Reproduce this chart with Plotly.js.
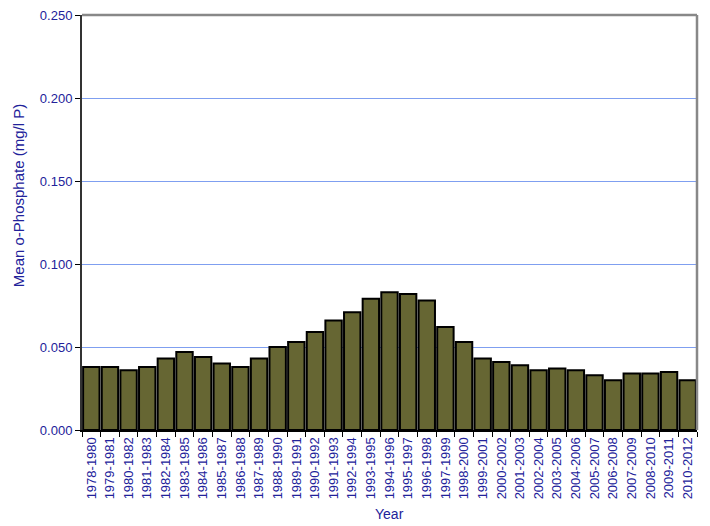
<!DOCTYPE html>
<html>
<head>
<meta charset="utf-8">
<script src="https://cdn.plot.ly/plotly-3.0.1.min.js"></script>
<style>html,body{margin:0;padding:0;background:#fff;}#chart{width:710px;height:526px;}</style>
</head>
<body>
<div id="chart"></div>
<script>
const periods = ["1978-1980","1979-1981","1980-1982","1981-1983","1982-1984","1983-1985","1984-1986","1985-1987","1986-1988","1987-1989","1988-1990","1989-1991","1990-1992","1991-1993","1992-1994","1993-1995","1994-1996","1995-1997","1996-1998","1997-1999","1998-2000","1999-2001","2000-2002","2001-2003","2002-2004","2003-2005","2004-2006","2005-2007","2006-2008","2007-2009","2008-2010","2009-2011","2010-2012"];
const meanPhosphate = [0.038,0.038,0.036,0.038,0.043,0.047,0.044,0.040,0.038,0.043,0.050,0.053,0.059,0.066,0.071,0.079,0.083,0.082,0.078,0.062,0.053,0.043,0.041,0.039,0.036,0.037,0.036,0.033,0.030,0.034,0.034,0.035,0.030];
const yTickVals = [0, 0.05, 0.10, 0.15, 0.20, 0.25];
const yTickText = ["0.000","0.050","0.100","0.150","0.200","0.250"];
const xTitle = "Year";
const yTitle = "Mean o-Phosphate (mg/l P)";

const navy = "#22229a";
const trace = {
  type: "bar",
  x: periods,
  y: meanPhosphate,
  marker: {color: "#666633", line: {color: "#000000", width: 2}},
  hoverinfo: "x+y"
};
const layout = {
  width: 710, height: 526,
  margin: {l: 82, r: 13, t: 15, b: 96},
  paper_bgcolor: "#ffffff", plot_bgcolor: "#ffffff",
  font: {family: "Liberation Sans, Arial, sans-serif", color: navy, size: 12},
  bargap: 0.12,
  showlegend: false,
  xaxis: {
    type: "category",
    tickangle: -90,
    tickson: "boundaries",
    ticks: "outside", ticklen: 5, tickcolor: "#000", tickwidth: 1,
    showline: true, linecolor: "#000", linewidth: 2,
    showgrid: false,
    tickfont: {size: 13, color: navy},
    automargin: false
  },
  yaxis: {
    range: [0, 0.25],
    tickvals: yTickVals, ticktext: yTickText,
    ticks: "outside", ticklen: 5, tickcolor: "#000", tickwidth: 1,
    showline: true, linecolor: "#333", linewidth: 2,
    showgrid: true, gridcolor: "#7f9ff0", gridwidth: 1,
    zeroline: false,
    tickfont: {size: 13, color: navy},
    automargin: false
  },
  annotations: [
    {text: xTitle, xref: "paper", yref: "paper", x: 0.5, y: -0.202, xanchor: "center", yanchor: "middle",
     showarrow: false, font: {size: 14, color: navy}},
    {text: yTitle, xref: "paper", yref: "paper", x: -0.102, y: 0.564, xanchor: "center", yanchor: "middle",
     textangle: -90, showarrow: false, font: {size: 15, color: navy}}
  ],
  shapes: [
    {type: "line", xref: "paper", yref: "paper", x0: 0, x1: 1, y0: 1, y1: 1, line: {color: "#888888", width: 2.5}},
    {type: "line", xref: "paper", yref: "paper", x0: 1, x1: 1, y0: 0, y1: 1, line: {color: "#888888", width: 2.5}}
  ]
};
Plotly.newPlot("chart", [trace], layout, {displayModeBar: false, staticPlot: true});
</script>
</body>
</html>
